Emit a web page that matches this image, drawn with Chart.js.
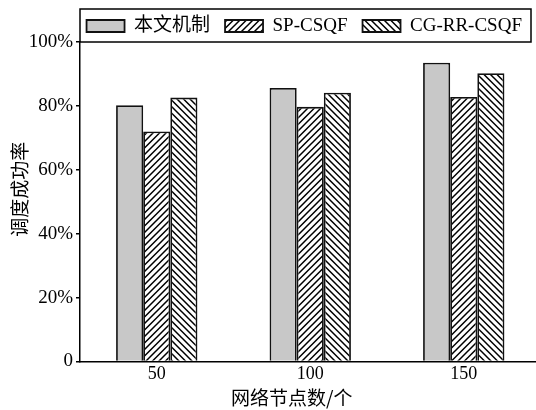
<!DOCTYPE html>
<html>
<head>
<meta charset="utf-8">
<script src="https://cdn.jsdelivr.net/npm/chart.js@4"></script>
<style>
  html, body { margin: 0; padding: 0; background: #fff; overflow: hidden; }
  #wrap { width: 545px; height: 410px; }
</style>
</head>
<body>
<div id="wrap"><canvas id="c" width="545" height="410"></canvas></div>
<script>
// ---- data ----
const categories = ['50', '100', '150'];
const seriesNames = ['本文机制', 'SP-CSQF', 'CG-RR-CSQF'];
const oursValues = [80.2, 85.6, 93.5];
const spCsqfValues = [72.0, 79.7, 82.8];
const cgRrCsqfValues = [82.6, 84.1, 90.2];
const yTickValues = [0, 20, 40, 60, 80, 100];
const xTitle = '网络节点数/个';
const yTitle = '调度成功率';

const SERIF = "'Liberation Serif', 'Times New Roman', 'Noto Sans CJK SC', serif";
const CJK = "'Noto Sans CJK SC', 'Liberation Serif', sans-serif";

const canvas = document.getElementById('c');
const ctx = canvas.getContext('2d');

function hatch(dir) {
  const s = 6.5;
  const n = 13; // two periods per tile
  const c = document.createElement('canvas');
  c.width = n; c.height = n;
  const g = c.getContext('2d');
  g.fillStyle = '#fff';
  g.fillRect(0, 0, n, n);
  g.strokeStyle = '#000';
  g.lineWidth = 1.5;
  g.beginPath();
  for (let k = -2; k <= 4; k++) {
    const o = k * s;
    if (dir > 0) { g.moveTo(o - 2, n + 2); g.lineTo(o + n + 2, -2); }
    else { g.moveTo(o - 2, -2); g.lineTo(o + n + 2, n + 2); }
  }
  g.stroke();
  return ctx.createPattern(c, 'repeat');
}

const fills = ['#c8c8c8', hatch(1), hatch(-1)];
const seriesValues = [oursValues, spCsqfValues, cgRrCsqfValues];

// keep all legend items on a single row inside the framed strip
const legendFix = {
  id: 'legendFix',
  beforeLayout(chart) {
    const lg = chart.legend;
    if (lg && !lg._patched) {
      const f = lg.fit;
      lg.fit = function () {
        const mw = this.maxWidth;
        this.maxWidth = mw + 300;
        f.call(this);
        this.maxWidth = mw;
        this.width = mw;
        this.height = 40.5;
      };
      const d = lg._draw;
      lg._draw = function () {
        const l = this.left, r = this.right;
        this.left = l - 162; this.right = r + 150;
        d.call(this);
        this.left = l; this.right = r;
      };
      lg._patched = true;
    }
  }
};

const decor = {
  id: 'decor',
  afterDraw(chart) {
    const a = chart.chartArea;
    const c = chart.ctx;
    c.save();
    // legend frame
    c.strokeStyle = '#000';
    c.lineWidth = 1.5;
    const top = a.top - 33;
    c.strokeRect(a.left, top, (a.right - 9.5) - a.left, a.top - top);
    // axis titles
    c.fillStyle = '#000';
    c.font = '19px ' + CJK;
    c.textAlign = 'center';
    c.textBaseline = 'middle';
    c.fillText(xTitle, a.left + (a.right - a.left) * 0.46, chart.height - 12.5);
    c.translate(20, (top + a.bottom) / 2 + 4);
    c.rotate(-Math.PI / 2);
    c.fillText(yTitle, 0, 0);
    c.restore();
  }
};

Chart.defaults.color = '#000';

new Chart(canvas, {
  type: 'bar',
  data: {
    labels: categories,
    datasets: seriesNames.map((name, i) => ({
      label: name,
      data: seriesValues[i],
      backgroundColor: fills[i],
      borderColor: '#111',
      borderWidth: 1.8,
      categoryPercentage: 0.53,
      barPercentage: 1.0
    }))
  },
  options: {
    responsive: false,
    animation: false,
    devicePixelRatio: 1,
    layout: { padding: { top: 1.5, right: 4.5, left: 0, bottom: 0 } },
    plugins: {
      legend: {
        position: 'top',
        fullSize: false,
        labels: {
          boxWidth: 38,
          boxHeight: 12,
          padding: 15,
          color: '#000',
          font: { family: SERIF, size: 19 }
        }
      },
      tooltip: { enabled: false },
      title: { display: false }
    },
    scales: {
      x: {
        grid: { display: true, drawOnChartArea: false, drawTicks: false, color: '#000' },
        border: { display: true, color: '#000', width: 1.5 },
        ticks: { padding: 2, color: '#000', font: { family: SERIF, size: 18 } },
        afterFit(scale) { scale.height = 48.5; }
      },
      y: {
        min: 0,
        max: 100,
        afterBuildTicks(scale) { scale.ticks = yTickValues.map(v => ({ value: v })); },
        grid: { drawOnChartArea: false, drawTicks: true, tickLength: 4, color: '#000', lineWidth: 1.5 },
        border: { display: true, color: '#000', width: 1.5 },
        ticks: {
          padding: 3,
          color: '#000',
          font: { family: SERIF, size: 19 },
          callback: v => (v === 0 ? '0' : v + '%')
        },
        afterFit(scale) { scale.width = 80; }
      }
    }
  },
  plugins: [legendFix, decor]
});
</script>
</body>
</html>
